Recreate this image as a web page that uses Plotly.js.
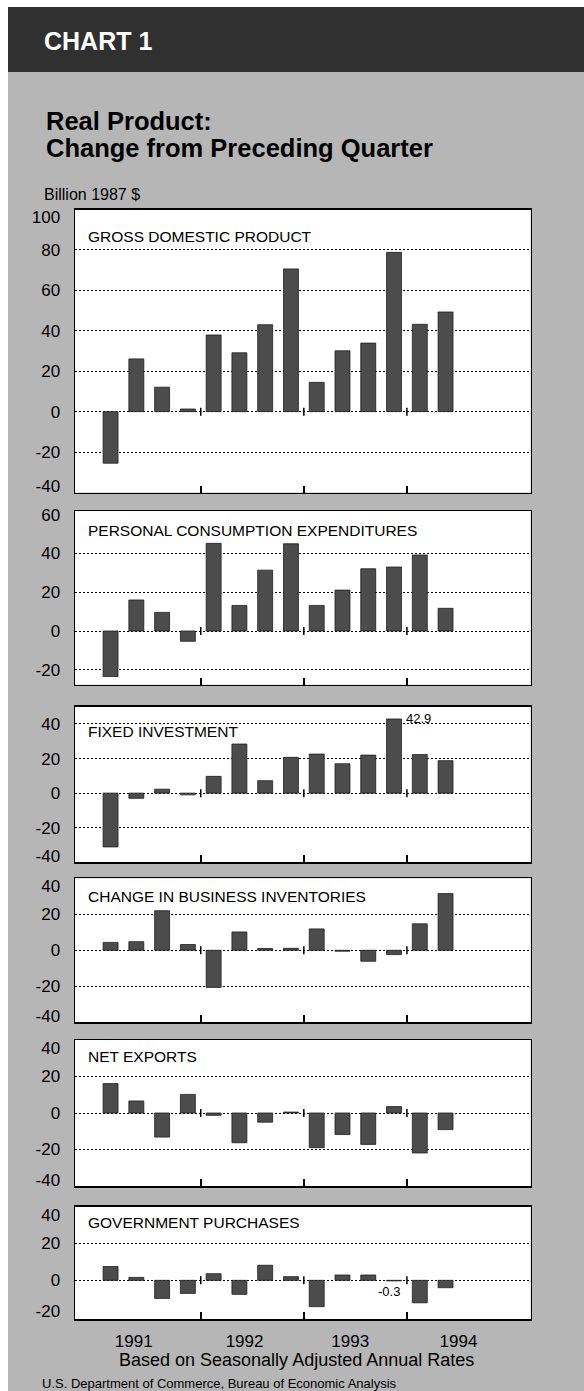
<!DOCTYPE html>
<html>
<head>
<meta charset="utf-8">
<script src="https://cdn.plot.ly/plotly-3.0.1.min.js"></script>
<style>html,body{margin:0;padding:0;background:#fff;}#chart{width:584px;height:1391px;}</style>
</head>
<body>
<div id="chart"></div>
<script>
// ---- data ----
const quarters = ['1991 Q1','1991 Q2','1991 Q3','1991 Q4','1992 Q1','1992 Q2','1992 Q3','1992 Q4',
                  '1993 Q1','1993 Q2','1993 Q3','1993 Q4','1994 Q1','1994 Q2'];
const gdp          = [-25.5, 26.1, 12.1, 1.3, 37.9, 29.1, 43.0, 70.6, 14.5, 30.1, 33.9, 78.8, 43.2, 49.3];
const pce          = [-23.5, 16.0, 9.6, -5.3, 45.2, 13.2, 31.4, 45.0, 13.2, 21.1, 32.1, 33.0, 39.2, 11.7];
const fixedInv     = [-31.1, -3.0, 2.3, -1.0, 9.7, 28.4, 7.2, 20.7, 22.6, 17.0, 22.0, 42.9, 22.3, 18.8];
const inventories  = [4.4, 4.8, 22.0, 3.2, -20.6, 10.2, 1.0, 1.1, 11.9, -0.5, -6.1, -2.4, 14.7, 31.5];
const netExports   = [16.1, 6.6, -13.2, 10.2, -1.3, -16.3, -5.0, 0.5, -19.0, -11.8, -17.2, 3.5, -21.9, -9.1];
const govPurchases = [7.5, 1.6, -9.8, -7.1, 3.6, -7.6, 8.2, 2.0, -14.3, 2.9, 2.9, -0.3, -12.2, -4.0];
const panelTitles  = ['GROSS DOMESTIC PRODUCT','PERSONAL CONSUMPTION EXPENDITURES','FIXED INVESTMENT',
                      'CHANGE IN BUSINESS INVENTORIES','NET EXPORTS','GOVERNMENT PURCHASES'];
const yearLabels   = ['1991','1992','1993','1994'];
const yTicks1 = [-40,-20,0,20,40,60,80,100];
const yTicks2 = [-20,0,20,40,60];
const yTicks3 = [-40,-20,0,20,40];
const yTicks4 = [-40,-20,0,20,40];
const yTicks5 = [-40,-20,0,20,40];
const yTicks6 = [-20,0,20,40];
const valueNotes = [{series: 2, q: '1993 Q4', text: '42.9'}, {series: 5, q: '1993 Q4', text: '-0.3'}];

// ---- layout constants ----
const W = 584, H = 1391;
const px = x => x / W;
const py = y => 1 - y / H;
const series = [gdp, pce, fixedInv, inventories, netExports, govPurchases];
const yTicks = [yTicks1, yTicks2, yTicks3, yTicks4, yTicks5, yTicks6];
const yRanges = [[-40,100],[-27.7,61.9],[-40,50],[-40,40],[-40,40],[-21,40]];
const panelPx = [[209.5,492.5],[511,684.7],[706.7,862.3],[878.3,1022.3],[1040,1186],[1206.7,1319]];
const titleY = [236, 530, 731.7, 896.7, 1056.7, 1222.7];
const xIdx = quarters.map((q,i)=>i);
const yearPos = [0.9, 5.2, 9.3, 13.5];          // label positions (quarter index units)
const yearBounds = [3.5, 7.5, 11.5];            // year boundary ticks
const xRange = [-1.38, 16.3];
const xDomain = [px(75), px(530.6)];

const FONT = '"Liberation Sans", Arial, Helvetica, sans-serif';

const traces = [];
const layout = {
  width: W, height: H,
  margin: {l:0, r:0, t:0, b:0},
  paper_bgcolor: '#b6b6b6',
  plot_bgcolor: '#ffffff',
  showlegend: false,
  bargap: 0.42,
  shapes: [], annotations: []
};

series.forEach((vals, i) => {
  const n = i + 1;
  const xa = 'x' + (n === 1 ? '' : n), ya = 'y' + (n === 1 ? '' : n);
  traces.push({
    type: 'bar', x: xIdx, y: vals, xaxis: xa, yaxis: ya,
    marker: {color: '#4c4c4c', line: {color: '#1e1e1e', width: 0.8}},
    hoverinfo: 'skip'
  });
  const isLast = n === series.length;
  layout['xaxis' + (n === 1 ? '' : n)] = {
    domain: xDomain, range: xRange, anchor: ya,
    showline: true, mirror: true, linecolor: '#000', linewidth: 1.5,
    showgrid: false, zeroline: false,
    tickmode: 'array', tickvals: isLast ? yearPos : [], ticktext: isLast ? yearLabels : [],
    ticks: '', ticklabelstandoff: 6,
    tickfont: {family: FONT, size: 17, color: '#000'},
    minor: {tickmode: 'array', tickvals: yearBounds, ticks: 'inside', ticklen: 7,
            tickwidth: 1.5, tickcolor: '#000', showgrid: false},
    fixedrange: true
  };
  const [top, bot] = panelPx[i];
  const [r0, r1] = yRanges[i];
  const ppu = (bot - top) / (r1 - r0);
  // labels at the frame edges sit a little inside the frame, as in the print
  const labelPos = yTicks[i].map(v => {
    if ((r1 - v) * ppu < 2) return v - 8 / ppu;
    if ((v - r0) * ppu < 2) return v + 6 / ppu;
    return v;
  });
  const gridVals = yTicks[i].filter(v => (r1 - v) * ppu > 4 && (v - r0) * ppu > 4);
  layout['yaxis' + (n === 1 ? '' : n)] = {
    domain: [py(bot), py(top)], range: yRanges[i], anchor: xa,
    showline: true, mirror: true, linecolor: '#000', linewidth: 1.5,
    showgrid: false, zeroline: false,
    tickmode: 'array', tickvals: labelPos, ticktext: yTicks[i].map(String),
    ticks: '', ticklabelstandoff: 10,
    tickfont: {family: FONT, size: 17, color: '#000'},
    minor: {tickmode: 'array', tickvals: gridVals, ticks: '', showgrid: true,
            gridcolor: '#000', gridwidth: 1, griddash: '2px,2px'},
    fixedrange: true
  };
  // small ticks crossing the zero line at year boundaries
  yearBounds.forEach(b => {
    layout.shapes.push({type: 'line', xref: xa, yref: ya, ysizemode: 'pixel', yanchor: 0,
      x0: b, x1: b, y0: -4, y1: 4, line: {color: '#000', width: 1.5}});
  });
  layout.annotations.push({
    text: panelTitles[i], xref: 'paper', yref: 'paper', x: px(86), y: py(titleY[i]),
    xanchor: 'left', yanchor: 'middle', showarrow: false,
    font: {family: FONT, size: 15.5, color: '#000'}
  });
});

valueNotes.forEach(nt => {
  const n = nt.series + 1;
  const xa = 'x' + (n === 1 ? '' : n), ya = 'y' + (n === 1 ? '' : n);
  const qi = quarters.indexOf(nt.q);
  const v = series[nt.series][qi];
  const pos = v >= 0;
  layout.annotations.push({
    text: nt.text, xref: xa, yref: ya, x: qi, y: v, showarrow: false,
    xanchor: pos ? 'left' : 'center', yanchor: pos ? 'middle' : 'top',
    xshift: pos ? 10 : -5, yshift: pos ? 0 : -1,
    font: {family: FONT, size: 13, color: '#000'}
  });
});

// page decoration: white margins and dark banner
layout.shapes.push({type:'rect', xref:'paper', yref:'paper', x0:0, x1:px(8), y0:0, y1:1,
  fillcolor:'#ffffff', line:{width:0}, layer:'below'});
layout.shapes.push({type:'rect', xref:'paper', yref:'paper', x0:0, x1:1, y0:py(7), y1:1,
  fillcolor:'#ffffff', line:{width:0}, layer:'below'});
layout.shapes.push({type:'rect', xref:'paper', yref:'paper', x0:px(8), x1:1, y0:py(72), y1:py(7),
  fillcolor:'#303030', line:{width:0}, layer:'below'});

// header & footer texts
const textItems = [
  {t:'<b>CHART 1</b>', x:42, y:41, size:25, col:'#ffffff'},
  {t:'<b>Real Product:</b>', x:44, y:121, size:25.5, col:'#000'},
  {t:'<b>Change from Preceding Quarter</b>', x:44, y:148, size:25.5, col:'#000'},
  {t:'Billion 1987 $', x:42, y:194, size:16, col:'#000'},
  {t:'U.S. Department of Commerce, Bureau of Economic Analysis', x:40, y:1383, size:13, col:'#000'}
];
textItems.forEach(o => layout.annotations.push({
  text:o.t, xref:'paper', yref:'paper', x:px(o.x), y:py(o.y), xanchor:'left', yanchor:'middle',
  showarrow:false, font:{family:FONT, size:o.size, color:o.col}
}));
layout.annotations.push({
  text:'Based on Seasonally Adjusted Annual Rates', xref:'paper', yref:'paper',
  x:px(296), y:py(1360), xanchor:'center', yanchor:'middle', showarrow:false,
  font:{family:FONT, size:18, color:'#000'}
});

Plotly.newPlot('chart', traces, layout, {displayModeBar:false, staticPlot:true});
</script>
</body>
</html>
